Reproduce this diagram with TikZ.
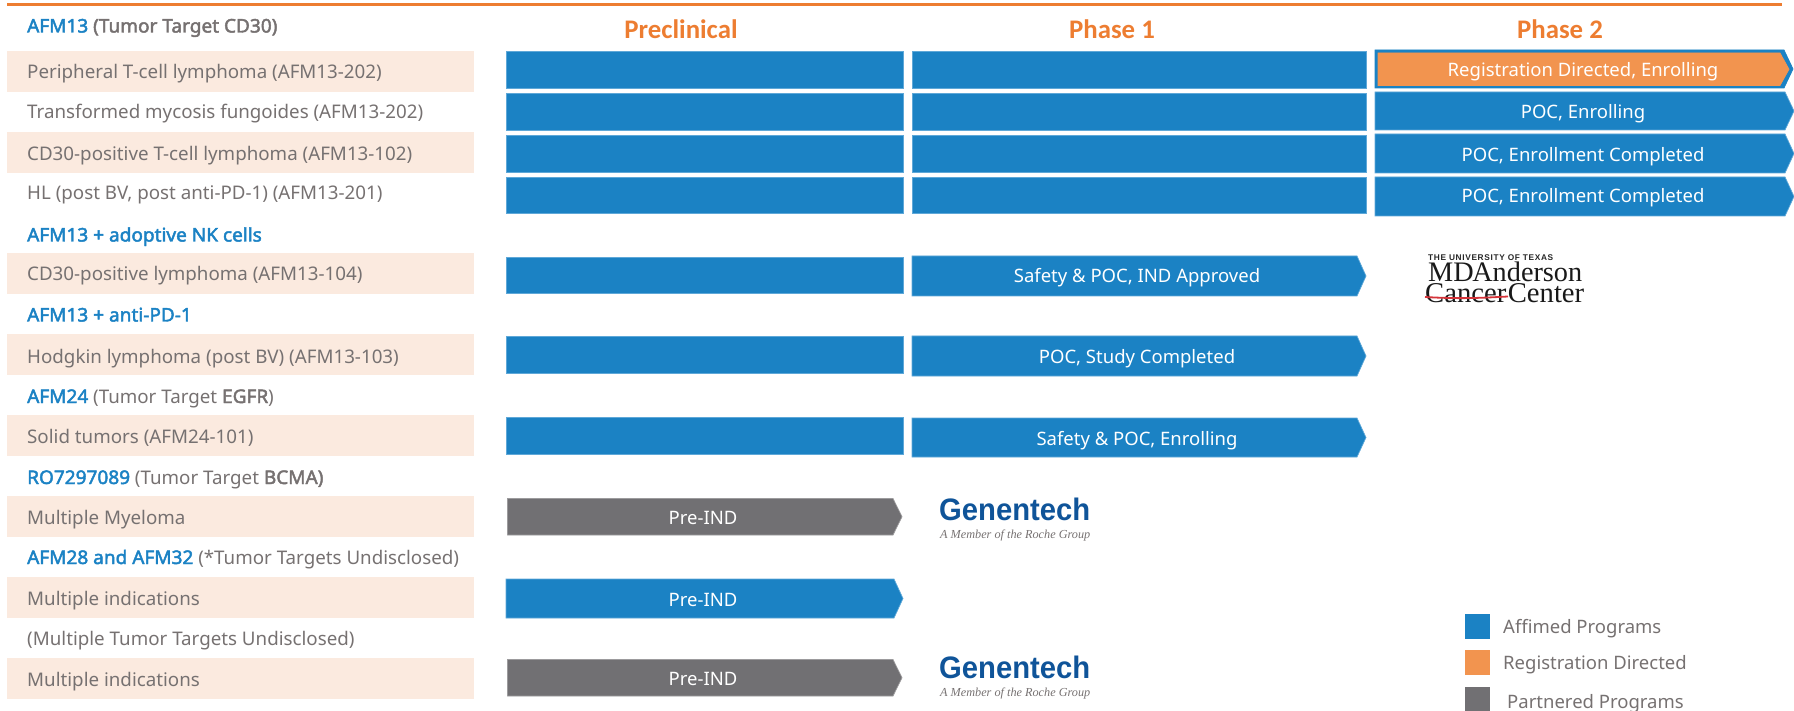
\documentclass[tikz,border=0pt]{standalone}
\usepackage{fontspec}
\setmainfont{Noto Sans}[BoldFont={Noto Sans},BoldFeatures={FakeBold=2.4,FakeStretch=1.015}]
\newfontfamily\headfont{Carlito}[BoldFont={Carlito Bold}]
\newfontfamily\logoserif{Liberation Serif}
\newfontfamily\logosans{Liberation Sans}
\definecolor{barblue}{HTML}{1B82C4}
\definecolor{barline}{HTML}{5FA8D8}
\definecolor{barorange}{HTML}{F2944F}
\definecolor{pale}{HTML}{FBEADF}
\definecolor{bargray}{HTML}{717073}
\definecolor{txtgray}{HTML}{767171}
\definecolor{headorange}{HTML}{ED7D31}
\definecolor{genblue}{HTML}{0F5499}
\definecolor{logored}{HTML}{D5343A}
\newcommand{\fitw}[2]{\resizebox{#1pt}{!}{#2}}
\newcommand{\fitwh}[3]{\resizebox{#1pt}{#2pt}{#3}}
\newcommand{\rowbar}[2]{\fill[pale] (7,#1) rectangle (474,#2);}
\newcommand{\recbar}[4]{\draw[draw=barline,line width=0.7pt,fill=barblue] (#1,#3) rectangle (#2,#4);}
\newcommand{\arrbar}[6]{\draw[draw=#6,line width=0.7pt,fill=#5] (#1,#3) -- (#2-9,#3) -- (#2,{(#3+#4)/2}) -- (#2-9,#4) -- (#1,#4) -- cycle;}
\tikzset{
  rowlabel/.style={anchor=base west,inner sep=0pt,text=txtgray,font=\fontsize{18.75}{22}\selectfont},
  barlabel/.style={anchor=base,inner sep=0pt,text=white,font=\fontsize{18.5}{22}\selectfont},
  phasehead/.style={anchor=base,inner sep=0pt,text=headorange,font=\headfont\bfseries\fontsize{26.8}{30}\selectfont},
  legtext/.style={anchor=base west,inner sep=0pt,text=txtgray,font=\fontsize{18.5}{22}\selectfont},
}
\newcommand{\prog}[1]{\textcolor{barblue}{\bfseries #1}}
\begin{document}
\begin{tikzpicture}[x=1pt,y=-1pt]
\useasboundingbox (0,0) rectangle (1794,711);
\draw[headorange,line width=2.5pt] (7,4.7) -- (1782,4.7);
% pale rows
\rowbar{51}{92}\rowbar{132}{173}\rowbar{253}{294}\rowbar{334}{375}\rowbar{415}{456}\rowbar{496}{537}\rowbar{577}{618}\rowbar{658}{699}
% headers
\node[phasehead] (hpre) at (681,39) {Preclinical};
\node[phasehead] (hone) at (1112,39) {Phase 1};
\node[phasehead] (htwo) at (1560,39) {Phase 2};
% left labels
\node[rowlabel] (l0) at (27,32.5) {\prog{AFM13} \textcolor{txtgray}{\bfseries (Tumor Target CD30)}};
\node[rowlabel] (l1) at (27,79) {Peripheral T-cell lymphoma (AFM13-202)};
\node[rowlabel] (l2) at (27,119) {Transformed mycosis fungoides (AFM13-202)};
\node[rowlabel] (l3) at (27,160.5) {CD30-positive T-cell lymphoma (AFM13-102)};
\node[rowlabel] (l4) at (27,200) {HL (post BV, post anti-PD-1) (AFM13-201)};
\node[rowlabel] (l5) at (27,241.5) {\prog{AFM13 + adoptive NK cells}};
\node[rowlabel] (l6) at (27,281) {CD30-positive lymphoma (AFM13-104)};
\node[rowlabel] (l7) at (27,321.5) {\prog{AFM13 + anti-PD-1}};
\node[rowlabel] (l8) at (27,363) {Hodgkin lymphoma (post BV) (AFM13-103)};
\node[rowlabel] (l9) at (27,403) {\prog{AFM24} (Tumor Target \textbf{EGFR})};
\node[rowlabel] (l10) at (27,443) {Solid tumors (AFM24-101)};
\node[rowlabel] (l11) at (27,484) {\prog{RO7297089} (Tumor Target \textbf{BCMA)}};
\node[rowlabel] (l12) at (27,524) {Multiple Myeloma};
\node[rowlabel] (l13) at (27,564) {\prog{AFM28 and AFM32} (*Tumor Targets Undisclosed)};
\node[rowlabel] (l14) at (27,605) {Multiple indications};
\node[rowlabel] (l15) at (27,645) {(Multiple Tumor Targets Undisclosed)};
\node[rowlabel] (l16) at (27,686) {Multiple indications};
% preclinical + phase 1 rectangles
\recbar{506}{903}{51}{88}\recbar{912}{1366}{51}{88}
\recbar{506}{903}{93}{130}\recbar{912}{1366}{93}{130}
\recbar{506}{903}{135}{172}\recbar{912}{1366}{135}{172}
\recbar{506}{903}{177}{213}\recbar{912}{1366}{177}{213}
\recbar{506}{903}{257}{293}
\recbar{506}{903}{336}{373}
\recbar{506}{903}{417}{454}
% phase 2
\arrbar{1375}{1793}{50}{88}{barblue}{barblue}
\arrbar{1378}{1789}{53}{85.5}{barorange}{barorange}
\arrbar{1375}{1794}{92}{130}{barblue}{barline}
\arrbar{1375}{1794}{134}{173}{barblue}{barline}
\arrbar{1375}{1794}{177}{216}{barblue}{barline}
\node[barlabel] (t1) at (1583,76.5) {Registration Directed, Enrolling};
\node[barlabel] (t2) at (1583,118.5) {POC, Enrolling};
\node[barlabel] (t3) at (1583,161.5) {POC, Enrollment Completed};
\node[barlabel] (t4) at (1583,203) {POC, Enrollment Completed};
% phase 1 arrows
\arrbar{912}{1366}{256}{296}{barblue}{barline}
\arrbar{912}{1366}{336}{376}{barblue}{barline}
\arrbar{912}{1366}{418}{457}{barblue}{barline}
\node[barlabel] (p1) at (1137,283) {Safety \& POC, IND Approved};
\node[barlabel] (p2) at (1137,363) {POC, Study Completed};
\node[barlabel] (p3) at (1137,445) {Safety \& POC, Enrolling};
% pre-IND arrows
\arrbar{507.5}{902}{498.5}{535}{bargray}{bargray!70}
\arrbar{506}{903}{579}{618}{barblue}{barline}
\arrbar{507.5}{902}{659.5}{696}{bargray}{bargray!70}
\node[barlabel] (i1) at (703,524) {Pre-IND};
\node[barlabel] (i2) at (703,606) {Pre-IND};
\node[barlabel] (i3) at (703,685) {Pre-IND};
% MD Anderson logo
\node[anchor=base west,inner sep=0pt,text=black!85] (md1) at (1428,261) {\fitw{125}{\logosans\bfseries\addfontfeatures{LetterSpace=8}THE UNIVERSITY OF TEXAS}};
\node[anchor=base west,inner sep=0pt,text=black!90] (md2) at (1428,282) {\fitw{154}{\logoserif MD\kern-.05em Anderson}};
\node[anchor=base west,inner sep=0pt,text=black!90] (md3) at (1425,303) {\fitw{159}{\logoserif Cancer\kern.05em Center}};
\draw[logored,line width=1.8pt] (1425,297) .. controls (1460,299) and (1480,298) .. (1508,296.5);
% Genentech logos
\node[anchor=base west,inner sep=0pt,text=genblue] (g1) at (939,520.5) {\fitwh{151}{22.5}{\logosans\bfseries Genentech}};
\node[anchor=base west,inner sep=0pt,text=txtgray] (g1t) at (940,538) {\fitw{150}{\logoserif\itshape A Member of the Roche Group}};
\node[anchor=base west,inner sep=0pt,text=genblue] (g2) at (939,678.5) {\fitwh{151}{22.5}{\logosans\bfseries Genentech}};
\node[anchor=base west,inner sep=0pt,text=txtgray] (g2t) at (940,696) {\fitw{150}{\logoserif\itshape A Member of the Roche Group}};
% legend
\fill[barblue] (1465,614) rectangle (1490,639);
\fill[barorange] (1465,650) rectangle (1490,675);
\fill[bargray] (1465,687) rectangle (1490,711);
\node[legtext] (k1) at (1503,633) {Affimed Programs};
\node[legtext] (k2) at (1503,669) {Registration Directed};
\node[legtext] (k3) at (1507,708) {Partnered Programs};
\end{tikzpicture}
\end{document}
